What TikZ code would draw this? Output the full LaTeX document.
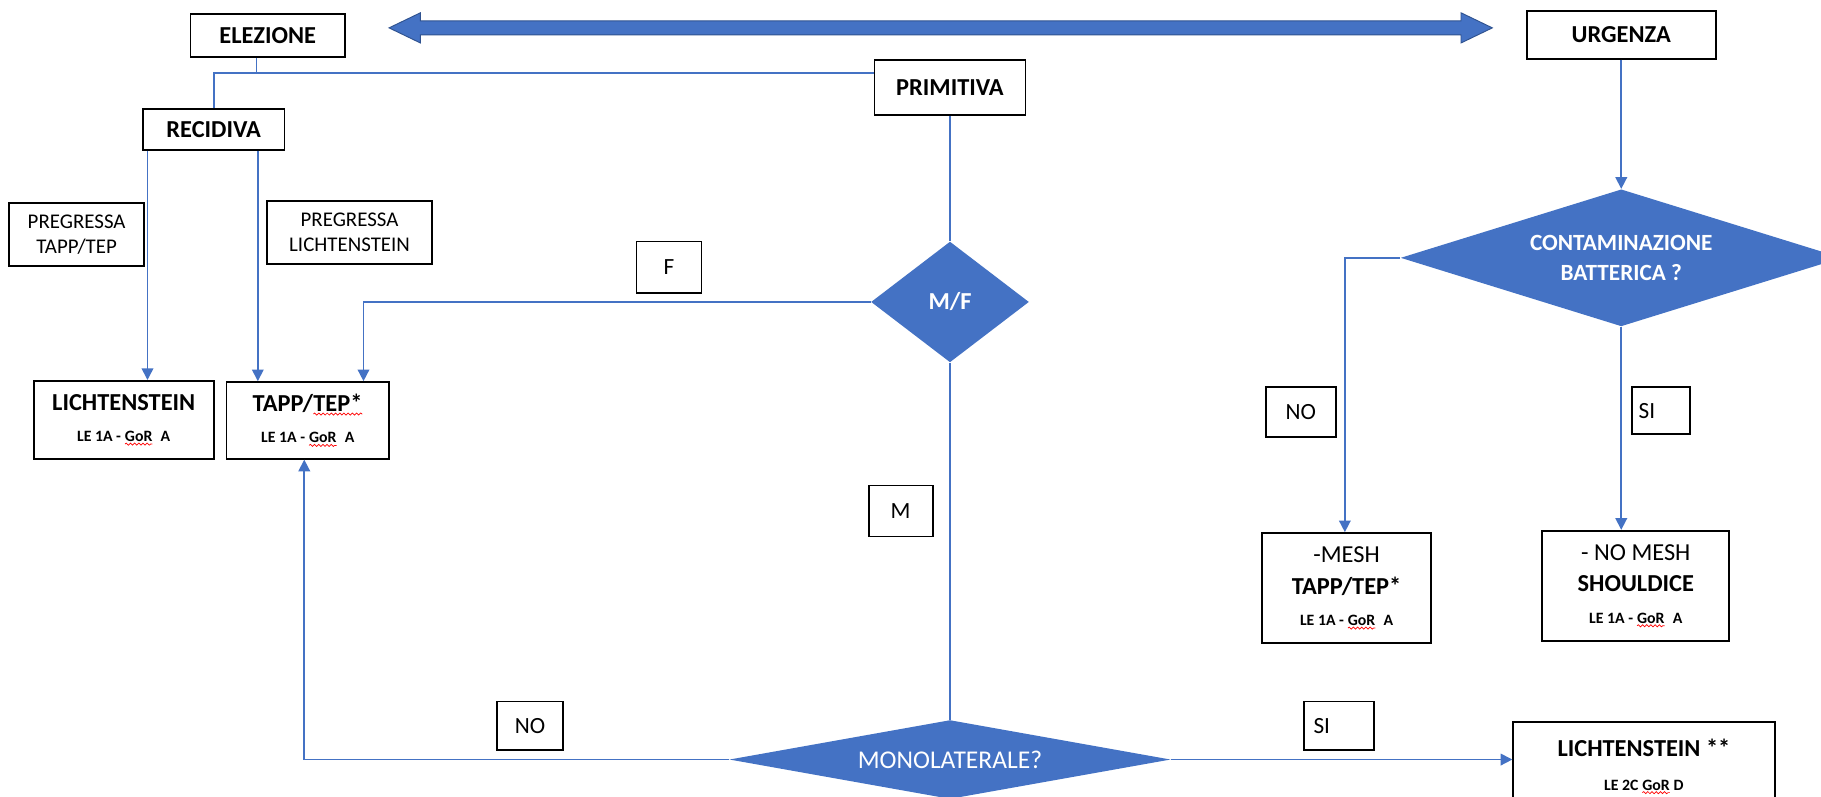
\documentclass[tikz,border=0pt]{standalone}
\usepackage{fontspec}
\setmainfont{Carlito}
\usetikzlibrary{shapes.geometric,arrows.meta,calc,decorations.pathmorphing}
\definecolor{ob}{HTML}{4472C4}
\definecolor{obd}{HTML}{2F528F}
\newcommand\rwave[1]{\tikz[baseline=(t.base),x=1pt,y=1pt]{\node[shape=rectangle,inner sep=0pt,outer sep=0pt,minimum width=0pt,minimum height=0pt,draw=none,fill=none,font={},align=left] (t) {#1};\draw[red,line width=0.3pt,decorate,decoration={snake,amplitude=0.45pt,segment length=1.8pt}] ([yshift=-1.1pt]t.base west) -- ([yshift=-1.1pt]t.base east);}}
\newcommand\sm{\fontsize{6.8}{8}\selectfont\bfseries}
\begin{document}
\begin{tikzpicture}[x=0.5pt,y=-0.5pt,
 box/.style={draw=black,line width=0.8pt,fill=white,inner sep=0pt,align=center,font=\fontsize{10.5}{12.5}\selectfont\bfseries},
 lbl/.style={draw=black,line width=0.8pt,fill=white,inner sep=0pt,font=\fontsize{10}{12}\selectfont},
 dia/.style={diamond,fill=ob,inner sep=0pt,text=white,align=center,font=\fontsize{10.5}{12.5}\selectfont\bfseries},
 conn/.style={draw=ob,line width=0.7pt},
 arr/.style={conn,-{Triangle[width=5pt,length=5pt]}},
]
\useasboundingbox (0,0) rectangle (1568,686);
\clip (0,0) rectangle (1568,686);
\fill[white] (0,0) rectangle (1568,686);

% double arrow
\fill[ob,draw=obd,line width=0.4pt] (335,24) -- (362,11) -- (362,18) -- (1258,18) -- (1258,11) -- (1285,24) -- (1258,37) -- (1258,30) -- (362,30) -- (362,37) -- cycle;

% boxes
\node[box,minimum width=66.5pt,minimum height=18.5pt] (elez) at (230.5,30.5) {ELEZIONE};
\node[box,minimum width=81.5pt,minimum height=20.5pt] (urg) at (1396,30) {URGENZA};
\node[box,minimum width=65pt,minimum height=23.5pt] (prim) at (818,75.5) {PRIMITIVA};
\node[box,minimum width=61pt,minimum height=17.5pt] (recid) at (184,111.5) {RECIDIVA};
\node[box,font=\fontsize{9}{11}\selectfont,minimum width=58pt,minimum height=27pt] (pregT) at (66,202) {PREGRESSA\\TAPP/TEP};
\node[box,font=\fontsize{9}{11}\selectfont,minimum width=71pt,minimum height=27pt] (pregL) at (301,200) {PREGRESSA\\LICHTENSTEIN};
\node[box,minimum width=77.5pt,minimum height=33.5pt] (lich) at (106.5,361.5) {LICHTENSTEIN\\[1pt]{\sm LE 1A - \rwave{GoR}\enspace A}};
\node[box,minimum width=70pt,minimum height=33pt] (tapp) at (265,362) {TAPP/\rwave{TEP*}\\[1pt]{\sm LE 1A - \rwave{GoR}\enspace A}};
\node[box,minimum width=72.5pt,minimum height=47.5pt] (mesh) at (1159.5,506.5) {{\mdseries -MESH}\\[1pt]TAPP/TEP*\\[1pt]{\sm LE 1A - \rwave{GoR}\enspace A}};
\node[box,minimum width=80.5pt,minimum height=47.5pt] (nomesh) at (1408.5,504.5) {{\mdseries - NO MESH}\\[1pt]SHOULDICE\\[1pt]{\sm LE 1A - \rwave{GoR}\enspace A}};
\node[box,minimum width=112.5pt,minimum height=38pt] (lich2) at (1415.5,660) {LICHTENSTEIN **\\[2pt]{\sm LE 2C \rwave{GoR} D}};

% diamonds
\node[dia,shape aspect=1.31,minimum width=68pt,minimum height=52pt] (mf) at (818,260) {M/F};
\node[dia,shape aspect=5.6,minimum width=190pt,minimum height=34pt,font=\fontsize{11}{13}\selectfont] (mono) at (818,654) {MONOLATERALE?};
\node[dia,shape aspect=3.22,minimum width=190pt,minimum height=59pt,font=\fontsize{10}{13}\selectfont\bfseries] (cont) at (1396,222) {CONTAMINAZIONE\\BATTERICA ?};

% labels
\node[lbl,minimum width=28pt,minimum height=22pt] (lF) at (576,230) {F};
\node[lbl,minimum width=27.5pt,minimum height=22pt] (lM) at (775.5,440) {M};
\node[lbl,minimum width=28.5pt,minimum height=21pt] (lNO) at (456.5,625) {NO};
\node[lbl,minimum width=30pt,minimum height=21pt,text width=22pt,align=left] (lSI) at (1153,625) {SI};
\node[lbl,minimum width=30pt,minimum height=21.5pt] (lNOb) at (1120,354.5) {NO};
\node[lbl,minimum width=25pt,minimum height=20.5pt,text width=19pt,align=left] (lSIb) at (1430,353.5) {SI};

% connectors
\coordinate (j1) at (221,63);
\coordinate (xa) at (127,0);
\coordinate (xb) at (222,0);
\coordinate (xf) at (313,0);
\coordinate (xn) at (262,0);
\coordinate (xm) at (1158,0);
\draw[conn] (elez.south -| j1) -- (j1);
\draw[conn] (recid.north) |- (prim.west |- j1);
\draw[arr] (recid.south -| xa) -- (lich.north -| xa);
\draw[arr] (recid.south -| xb) -- (tapp.north -| xb);
\draw[conn] (prim.south) -- (mf.north);
\draw[arr] (mf.west) -| (tapp.north -| xf);
\draw[conn] (mf.south) -- (mono.north);
\draw[arr] (mono.west) -| (tapp.south -| xn);
\draw[arr] (mono.east) -- (lich2.west |- mono.east);
\draw[arr] (urg.south) -- (cont.north);
\draw[arr] (cont.west) -| (mesh.north -| xm);
\draw[arr] (cont.south) -- (nomesh.north -| cont.south);
\end{tikzpicture}
\end{document}
